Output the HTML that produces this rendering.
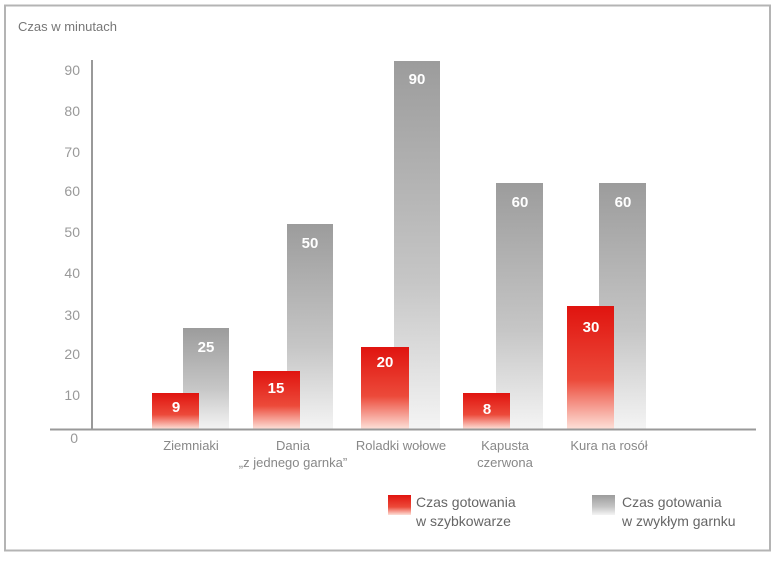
<!DOCTYPE html>
<html><head><meta charset="utf-8"><style>
body{margin:0;background:#fff;}
svg text{font-family:"Liberation Sans",sans-serif;}
</style></head><body>
<svg width="774" height="556" xmlns="http://www.w3.org/2000/svg">
<defs>
<linearGradient id="r" x1="0" y1="0" x2="0" y2="1"><stop offset="0" stop-color="#e0140f"/><stop offset="0.6" stop-color="#ec4a3a"/><stop offset="1" stop-color="#fde0d8"/></linearGradient>
<linearGradient id="g" x1="0" y1="0" x2="0" y2="1"><stop offset="0" stop-color="#9c9c9c"/><stop offset="0.6" stop-color="#c6c6c6"/><stop offset="1" stop-color="#f4f4f4"/></linearGradient>
</defs>
<rect x="5" y="5.5" width="765" height="545" fill="#fff" stroke="#b4b4b4" stroke-width="2"/>
<text x="18" y="31" font-size="13" fill="#777">Czas w minutach</text>
<g font-size="14" fill="#999" text-anchor="end">
<text x="80" y="75">90</text><text x="80" y="116">80</text><text x="80" y="157">70</text>
<text x="80" y="196">60</text><text x="80" y="237">50</text><text x="80" y="278">40</text>
<text x="80" y="320">30</text><text x="80" y="359">20</text><text x="80" y="400">10</text>
<text x="78" y="443">0</text>
</g>
<line x1="92" y1="60" x2="92" y2="430" stroke="#999" stroke-width="2"/>
<g>
<rect x="183" y="328" width="46" height="101" fill="url(#g)"/>
<rect x="287" y="224" width="46" height="205" fill="url(#g)"/>
<rect x="394" y="61" width="46" height="368" fill="url(#g)"/>
<rect x="496" y="183" width="47" height="246" fill="url(#g)"/>
<rect x="599" y="183" width="47" height="246" fill="url(#g)"/>
<rect x="152" y="393" width="47" height="36" fill="url(#r)"/>
<rect x="253" y="371" width="47" height="58" fill="url(#r)"/>
<rect x="361" y="347" width="48" height="82" fill="url(#r)"/>
<rect x="463" y="393" width="47" height="36" fill="url(#r)"/>
<rect x="567" y="306" width="47" height="123" fill="url(#r)"/>
</g>
<line x1="50" y1="429.5" x2="756" y2="429.5" stroke="#999" stroke-width="2"/>
<g font-size="15" font-weight="bold" fill="#fff" text-anchor="middle">
<text x="206" y="352">25</text><text x="310" y="248">50</text><text x="417" y="84">90</text>
<text x="520" y="207">60</text><text x="623" y="207">60</text>
<text x="176" y="412">9</text><text x="276" y="393">15</text><text x="385" y="367">20</text>
<text x="487" y="414">8</text><text x="591" y="332">30</text>
</g>
<g font-size="13" fill="#888" text-anchor="middle">
<text x="191" y="450">Ziemniaki</text>
<text x="293" y="450">Dania</text><text x="293" y="467">„z jednego garnka”</text>
<text x="401" y="450">Roladki wołowe</text>
<text x="505" y="450">Kapusta</text><text x="505" y="467">czerwona</text>
<text x="609" y="450">Kura na rosół</text>
</g>
<rect x="388" y="495" width="23" height="20" fill="url(#r)"/>
<rect x="592" y="495" width="23" height="20" fill="url(#g)"/>
<g font-size="14" fill="#666">
<text x="416" y="507">Czas gotowania</text><text x="416" y="526">w szybkowarze</text>
<text x="622" y="507">Czas gotowania</text><text x="622" y="526">w zwykłym garnku</text>
</g>
</svg>
</body></html>
